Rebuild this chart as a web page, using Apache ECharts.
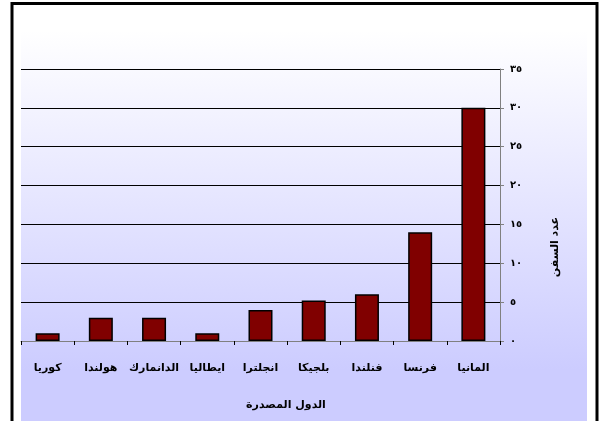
<!DOCTYPE html>
<html>
<head>
<meta charset="utf-8">
<script src="https://cdn.jsdelivr.net/npm/echarts@6/dist/echarts.min.js"></script>
<style>
  html, body { margin: 0; padding: 0; background: #fff; }
  #main { width: 606px; height: 421px; }
</style>
</head>
<body>
<div id="main"></div>
<script>
  // الدول المصدرة وعدد السفن
  const countries = ["المانيا", "فرنسا", "فنلندا", "بلجيكا", "انجلترا", "ايطاليا", "الدانمارك", "هولندا", "كوريا"];
  const ships = [30, 14, 6, 5.2, 4, 1, 3, 3, 1];
  const xTitle = "الدول المصدرة";
  const yTitle = "عدد السفن";

  // أرقام هندية
  const toArabicDigits = (v) => String(v).replace(/[0-9]/g, (d) => "٠١٢٣٤٥٦٧٨٩"[d]);

  const font = "DejaVu Sans";
  const chart = echarts.init(document.getElementById("main"));

  const option = {
    animation: false,
    backgroundColor: "#fff",
    graphic: [
      {
        type: "rect",
        z: -10,
        shape: { x: 21, y: 30, width: 566, height: 400 },
        style: {
          fill: {
            type: "linear", x: 0, y: 0, x2: 0, y2: 1,
            colorStops: [
              { offset: 0, color: "#ffffff" },
              { offset: 0.85, color: "#ccccff" },
              { offset: 1, color: "#ccccff" },
            ],
          },
        },
      },
      {
        type: "rect",
        z: -5,
        shape: { x: 12, y: 3.5, width: 585, height: 440 },
        style: { fill: "none", stroke: "#000", lineWidth: 3 },
      },
      {
        type: "text",
        x: 286, y: 405,
        style: { text: xTitle, font: "bold 11px '" + font + "'", fill: "#000", align: "center", verticalAlign: "middle" },
      },
      {
        type: "text",
        x: 555, y: 247,
        rotation: Math.PI / 2,
        style: { text: yTitle, font: "bold 11px '" + font + "'", fill: "#000", align: "center", verticalAlign: "middle" },
      },
    ],
    grid: { left: 21, right: 106, top: 69, bottom: 80 },
    xAxis: {
      type: "category",
      data: countries,
      inverse: true,
      axisLine: { lineStyle: { color: "#808080", width: 1 } },
      axisTick: { show: true, length: 4, lineStyle: { color: "#000" } },
      axisLabel: { interval: 0, color: "#000", fontFamily: font, fontWeight: "bold", fontSize: 11, margin: 22 },
    },
    yAxis: {
      type: "value",
      position: "right",
      min: 0,
      max: 35,
      interval: 5,
      axisLine: { show: true, lineStyle: { color: "#808080", width: 1 } },
      axisTick: { show: true, length: 4, lineStyle: { color: "#808080" } },
      axisLabel: {
        color: "#000", fontFamily: font, fontWeight: "bold", fontSize: 10, margin: 10,
        formatter: (v) => toArabicDigits(v),
      },
      splitLine: { show: true, lineStyle: { color: "#000", width: 1 } },
    },
    series: [
      {
        type: "bar",
        data: ships,
        barWidth: 24,
        itemStyle: { color: "#800000", borderColor: "#000", borderWidth: 1.5 },
      },
    ],
  };

  chart.setOption(option);
</script>
</body>
</html>
